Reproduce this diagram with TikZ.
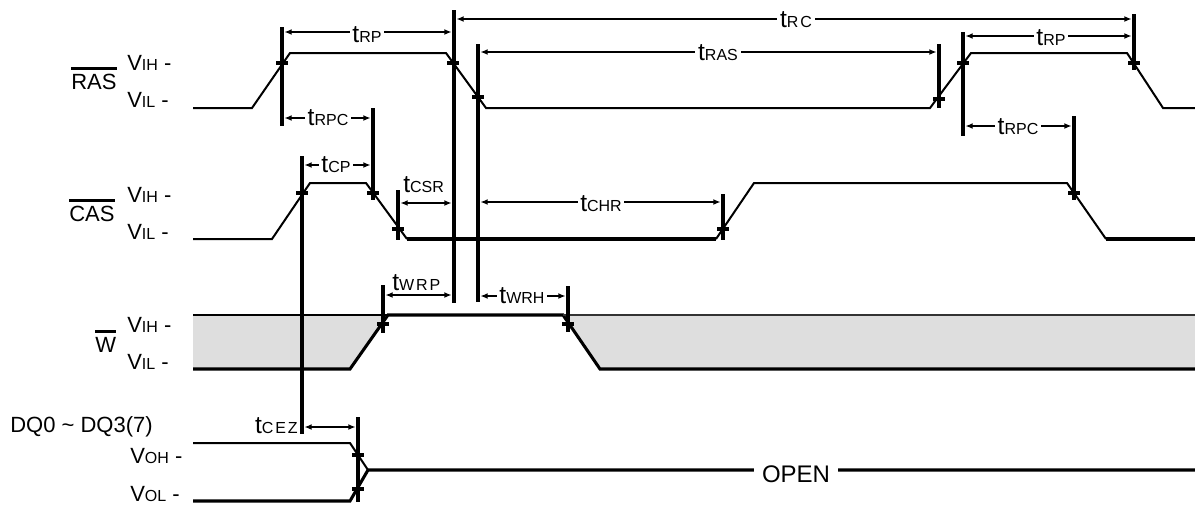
\documentclass[tikz,border=0pt]{standalone}
\usepackage{fontspec}
\setmainfont{Liberation Sans}
\usetikzlibrary{arrows.meta}
\newcommand{\bigf}{\fontsize{16.5}{18}\selectfont}
\newcommand{\tf}{\fontsize{18.5}{20}\selectfont}
\newcommand{\smf}{\fontsize{12}{13}\selectfont}
\newcommand{\tsub}[1]{{\tf t}{\smf #1}}
\newcommand{\tsubsp}[1]{{\tf t}{\smf\addfontfeature{LetterSpace=12}#1}}
\newcommand{\vlev}[1]{{\bigf V}{\smf #1}{\bigf\ -}}
\definecolor{wgray}{HTML}{DEDEDE}
\begin{document}
\begin{tikzpicture}[x=0.75pt,y=-0.75pt,
  wave/.style={line width=1.5pt, line join=miter},
  wthick/.style={line width=2.3pt, line join=miter},
  vbar/.style={line width=2.5pt},
  tickm/.style={line width=2.4pt},
  dim/.style={line width=1.6pt, {Latex[length=5.5pt,width=4.5pt]}-{Latex[length=5.5pt,width=4.5pt]}, shorten <=1.8pt, shorten >=1.8pt},
  lab/.style={fill=white, inner xsep=2pt, inner ysep=1pt, anchor=base},
  sig/.style={anchor=base west, inner sep=0pt, font=\bigf}]
\useasboundingbox (0,0) rectangle (1195,504);

% ---- W gray regions
\fill[wgray] (193,315) -- (388,315) -- (350,369) -- (193,369) -- cycle;
\fill[wgray] (563,315) -- (1195,315) -- (1195,369) -- (600,369) -- cycle;

% ---- RAS waveform
\draw[wave] (193,108) -- (252,108) -- (290,53) -- (446,53) -- (486,108) -- (930,108) -- (971,53) -- (1127,53) -- (1163,108) -- (1195,108);
% ---- CAS waveform
\draw[wave] (193,239) -- (272,239) -- (310,183) -- (366,183) -- (407,239);
\draw[wthick] (407,239) -- (716,239);
\draw[wave] (716,239) -- (754,183) -- (1067,183) -- (1106,239);
\draw[wthick] (1106,239) -- (1195,239);
% ---- W waveform
\draw[line width=1.4pt] (193,315) -- (388,315);
\draw[wthick] (193,369) -- (350,369) -- (388,315) -- (563,315) -- (600,369) -- (1195,369);
\draw[line width=1.4pt, black!80] (563,315) -- (1195,315);
% ---- DQ waveform
\draw[wave] (193,443) -- (350,443) -- (368,470);
\draw[wthick] (193,501) -- (350,501) -- (368,470) -- (1195,470);

% ---- vertical reference bars
\draw[vbar] (282,27) -- (282,126);
\draw[vbar] (302,156) -- (302,434);
\draw[vbar] (373,108) -- (373,200);
\draw[vbar] (454,10) -- (454,303);
\draw[vbar] (478,44) -- (478,302);
\draw[vbar] (939,44) -- (939,108);
\draw[vbar] (963,32) -- (963,136);
\draw[vbar] (1134,14) -- (1134,70);
\draw[vbar] (1074,116) -- (1074,200);
\draw[vbar] (398,190) -- (398,240);
\draw[vbar] (723,194) -- (723,240);
\draw[vbar] (383,285) -- (383,333);
\draw[vbar] (568,286) -- (568,332);
\draw[vbar] (358,417) -- (358,502);

% ---- crossing ticks
\foreach \px/\py in {282/63, 453/63, 478/97, 939/99, 963/63, 1134/63,
                     302/193, 373/193, 398/229, 723/229, 1074/193,
                     383/324, 568/324, 358/455, 358/489}
  \draw[tickm] (\px-6,\py) -- (\px+6,\py);

% ---- dimension lines
\draw[dim] (282,32) -- (454,32);
\draw[dim] (454,19) -- (1134,19);
\draw[dim] (478,52) -- (939,52);
\draw[dim] (963,36) -- (1134,36);
\draw[dim] (282,118) -- (373,118);
\draw[dim] (963,126) -- (1074,126);
\draw[dim] (302,165) -- (373,165);
\draw[dim] (398,203) -- (454,203);
\draw[dim] (478,202) -- (723,202);
\draw[dim] (383,295) -- (454,295);
\draw[dim] (478,296) -- (568,296);
\draw[dim] (302,427) -- (358,427);

% ---- timing labels
\node[lab] (trp1) at (367,42) {\tsub{RP}};
\node[lab] (trc) at (796,27) {\tsubsp{RC}};
\node[lab] (tras) at (718,60) {\tsub{RAS}};
\node[lab] (trp2) at (1051,45) {\tsub{RP}};
\node[lab] (trpc1) at (328,125) {\tsub{RPC}};
\node[lab] (trpc2) at (1018,134) {\tsub{RPC}};
\node[lab] (tcp) at (336,172) {\tsub{CP}};
\node[anchor=base west, inner sep=0pt] (tcsr) at (403,192) {\tsub{CSR}};
\node[lab] (tchr) at (601,211) {\tsub{CHR}};
\node[anchor=base west, inner sep=0pt] (twrp) at (392,290) {\tsubsp{WRP}};
\node[lab] (twrh) at (522,303) {\tsub{WRH}};
\node[anchor=base east, inner sep=0pt] (tcez) at (298,433) {\tsubsp{CEZ}};
\node[fill=white, inner xsep=6pt, inner ysep=1pt, anchor=base, font=\fontsize{18}{20}\selectfont] (open) at (796,482) {OPEN};

% ---- signal names and levels
\node[sig] (ras) at (71,89) {RAS};
\draw[line width=2.2pt] ([yshift=4pt]ras.north west) -- ([yshift=4pt]ras.north east);
\node[sig] (rasvih) at (127,70) {\vlev{IH}};
\node[sig] (rasvil) at (127,107) {\vlev{IL}};

\node[sig] (cas) at (69,221) {CAS};
\draw[line width=2.2pt] ([yshift=4pt]cas.north west) -- ([yshift=4pt]cas.north east);
\node[sig] (casvih) at (127,202) {\vlev{IH}};
\node[sig] (casvil) at (127,239) {\vlev{IL}};

\node[sig] (w) at (95,352) {W};
\draw[line width=2.2pt] ([yshift=4pt]w.north west) -- ([yshift=4pt]w.north east);
\node[sig] (wvih) at (127,332) {\vlev{IH}};
\node[sig] (wvil) at (127,369) {\vlev{IL}};

\node[sig] (dq) at (10,432) {DQ0 \textasciitilde\ DQ3(7)};
\node[sig] (dqvoh) at (130,463) {\vlev{OH}};
\node[sig] (dqvol) at (130,501) {\vlev{OL}};
\end{tikzpicture}
\end{document}
